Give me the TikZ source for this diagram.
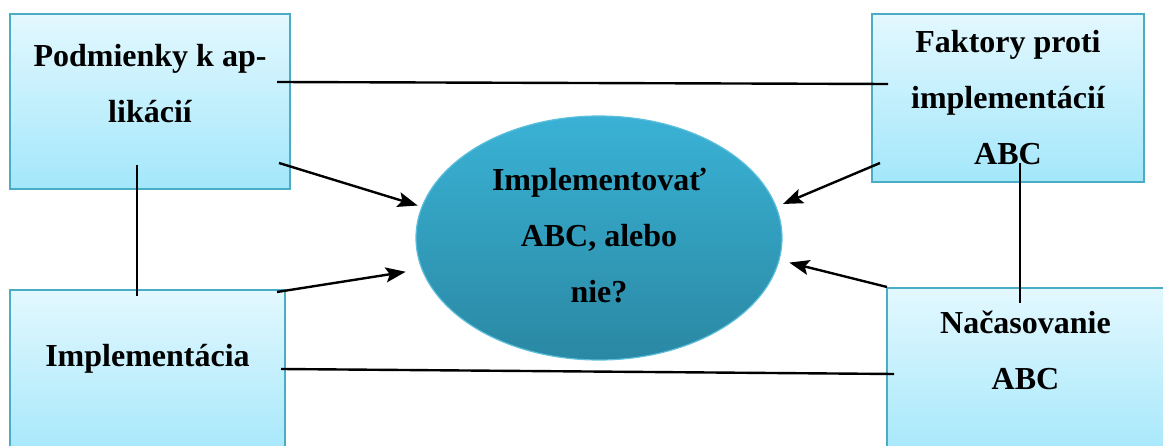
\documentclass[tikz,border=0pt]{standalone}
\usepackage{fontspec}
\setmainfont{Liberation Serif}
\usetikzlibrary{arrows.meta,shapes.geometric}

\definecolor{boxtop}{HTML}{E3F8FE}
\definecolor{boxbot}{HTML}{A3E7FB}
\definecolor{boxedge}{HTML}{4BACC6}
\definecolor{elltop}{HTML}{3AB2D5}
\definecolor{ellbot}{HTML}{2A88A3}
\definecolor{elledge}{HTML}{5CBFDB}

\tikzset{
  factor/.style={rectangle, draw=boxedge, line width=1.8pt,
    top color=boxtop, bottom color=boxbot, inner sep=0pt},
  % multi-line labels sit on the baseline of their last line
  label/.style={font=\fontsize{32}{56}\selectfont\bfseries, align=center,
    anchor=base, inner sep=0pt},
  link/.style={line width=2.4pt, black},
  flow/.style={link, -{Stealth[length=20pt,width=15pt,inset=4pt]}},
}

\begin{document}
\begin{tikzpicture}[x=1pt, y=-1pt]
  \useasboundingbox (0,0) rectangle (1163,446);

  % four factor boxes
  \node[factor, minimum width=280pt, minimum height=175pt] (cond) at (150,101.5) {};
  \node[factor, minimum width=272pt, minimum height=168pt] (against) at (1008,98) {};
  \node[factor, minimum width=275pt, minimum height=172pt] (impl) at (147.5,376) {};
  \node[factor, minimum width=283pt, minimum height=174pt] (timing) at (1028.5,375) {};

  % central decision
  \node[ellipse, draw=elledge, line width=1.2pt, top color=elltop, bottom color=ellbot,
        minimum width=366pt, minimum height=244pt, inner sep=0pt] (dec) at (599,238) {};

  % texts
  \node[label] (tcond) at (150,123) {Podmienky k ap-\\likácií};
  \node[label] (tagainst) at (1008,165) {Faktory proti\\implementácií\\ABC};
  \node[label] (timpl) at (147.5,367) {Implementácia};
  \node[label] (ttiming) at (1025.5,390) {Načasovanie\\ABC};
  \node[label] (tdec) at (599,303) {Implementovať\\ABC, alebo\\nie?};

  % connector ends inside the boxes
  \coordinate (c1) at (277,82);
  \coordinate (a1) at (888,84);
  \coordinate (c2) at (279,163);
  \coordinate (c3) at (137,165);
  \coordinate (i1) at (137,296);
  \coordinate (i2) at (277,292);
  \coordinate (i3) at (281,369);
  \coordinate (t1) at (894,374);
  \coordinate (a2) at (880,163);
  \coordinate (a3) at (1020,163);
  \coordinate (t2) at (887,287);
  \coordinate (t3) at (1020,303);

  % plain links
  \draw[link] (c1) -- (a1);
  \draw[link] (c3) -- (i1);
  \draw[link] (i3) -- (t1);
  \draw[link] (a3) -- (t3);

  % arrows into the decision
  \draw[flow, shorten >=4pt] (c2) -- (dec.170);
  \draw[flow, shorten >=16pt] (i2) -- (dec.190);
  \draw[flow, shorten >=7pt] (a2) -- (dec.10);
  \draw[flow, shorten >=10pt] (t2) -- (dec.-7.5);
\end{tikzpicture}
\end{document}
